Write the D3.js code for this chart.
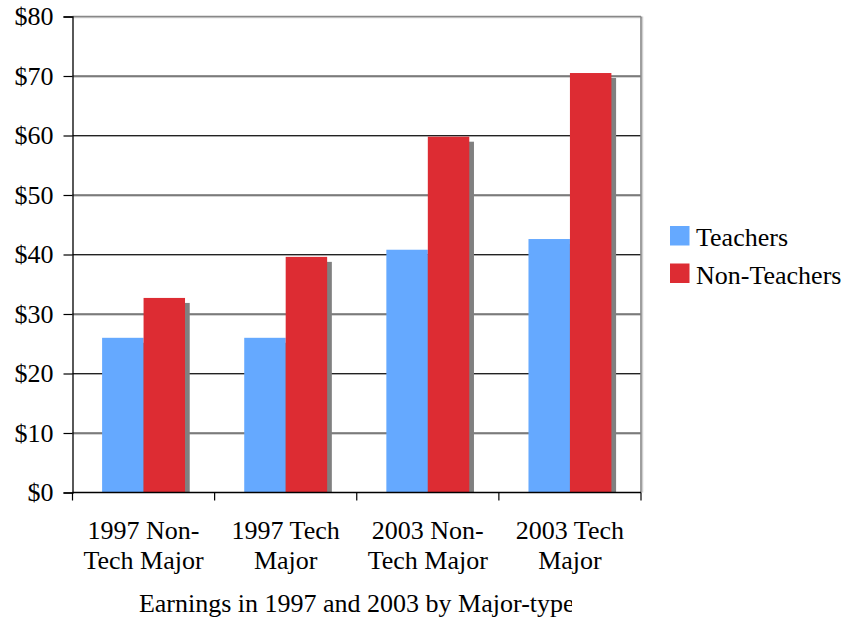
<!DOCTYPE html>
<html>
<head>
<meta charset="utf-8">
<script src="https://cdn.jsdelivr.net/npm/d3@7"></script>
<style>
  html, body { margin: 0; padding: 0; background: #fff; }
  svg { display: block; }
</style>
</head>
<body>
<svg id="chart" width="850" height="621"></svg>
<script>
const categories = [["1997 Non-", "Tech Major"], ["1997 Tech", "Major"], ["2003 Non-", "Tech Major"], ["2003 Tech", "Major"]];
const seriesNames = ["Teachers", "Non-Teachers"];
const teachers = [26.0, 26.0, 40.8, 42.6];
const nonTeachers = [32.7, 39.6, 59.8, 70.5];
const yTicks = [0, 10, 20, 30, 40, 50, 60, 70, 80];
const colors = ["#65A9FF", "#DD2C33"];
const title = "Earnings in 1997 and 2003 by Major-type";

(function () {
const FONT = "'Liberation Serif', 'Times New Roman', Times, 'DejaVu Serif', serif";
const svg = d3.select("#chart").attr("font-family", FONT).style("font-family", FONT);
const pL = 72.5, pR = 641, pT = 16.5, pB = 492.5;
const catKeys = categories.map((c, i) => i);

const x0 = d3.scaleBand().domain(catKeys).range([pL, pR]).paddingInner(0).paddingOuter(0);
const x1 = d3.scaleBand().domain(seriesNames).range([0, x0.bandwidth()]).paddingInner(0).paddingOuter(0.714);
const y = d3.scaleLinear().domain([0, 80]).range([pB, pT]);

svg.append("clipPath").attr("id", "plotClip").append("rect")
  .attr("x", pL).attr("y", pT).attr("width", pR - pL + 10).attr("height", pB - pT);

// gridlines
const grid = svg.append("g");
yTicks.filter(v => v > 0 && v < 80).forEach(v => {
  grid.append("line").attr("x1", pL).attr("x2", pR).attr("y1", y(v) + 1).attr("y2", y(v) + 1)
    .attr("stroke", "#a8a8a8").attr("stroke-width", 1);
  grid.append("line").attr("x1", pL).attr("x2", pR).attr("y1", y(v)).attr("y2", y(v))
    .attr("stroke", "#222").attr("stroke-width", 1.2);
});

// plot border top & right (gray)
svg.append("line").attr("x1", pL).attr("x2", pR + 1).attr("y1", pT + 1).attr("y2", pT + 1).attr("stroke", "#d0d0d0").attr("stroke-width", 1.5);
svg.append("line").attr("x1", pR + 1.5).attr("x2", pR + 1.5).attr("y1", pT).attr("y2", pB).attr("stroke", "#d0d0d0").attr("stroke-width", 1.5);
svg.append("line").attr("x1", pL).attr("x2", pR).attr("y1", pT).attr("y2", pT).attr("stroke", "#888").attr("stroke-width", 1.6);
svg.append("line").attr("x1", pR).attr("x2", pR).attr("y1", pT).attr("y2", pB).attr("stroke", "#888").attr("stroke-width", 1.6);

const data = catKeys.map(i => ({ cat: i, values: [teachers[i], nonTeachers[i]] }));

const bars = svg.append("g").attr("clip-path", "url(#plotClip)");
data.forEach(d => {
  d.values.forEach((v, j) => {
    const bx = x0(d.cat) + x1(seriesNames[j]);
    bars.append("rect")
      .attr("x", bx + 4.7).attr("y", y(v) + 5)
      .attr("width", x1.bandwidth()).attr("height", pB - y(v))
      .attr("fill", "#808080");
  });
  d.values.forEach((v, j) => {
    const bx = x0(d.cat) + x1(seriesNames[j]);
    bars.append("rect")
      .attr("x", bx).attr("y", y(v))
      .attr("width", x1.bandwidth()).attr("height", pB - y(v))
      .attr("fill", colors[j]);
  });
});

// Y axis
const yAxis = d3.axisLeft(y).tickValues(yTicks).tickFormat(d => "$" + d).tickSize(9).tickPadding(10);
const yg = svg.append("g").attr("transform", `translate(${pL},0)`).call(yAxis);
yg.attr("font-family", FONT).attr("font-size", 26);
yg.select(".domain").attr("stroke", "#000").attr("stroke-width", 1.3);
yg.selectAll(".tick line").attr("stroke", "#000").attr("stroke-width", 1.2);
yg.selectAll(".tick text").attr("font-family", FONT).style("font-family", FONT).style("font-size", "26px").attr("fill", "#000");

// X axis
const boundaries = catKeys.map(i => x0(i)).concat([pR]);
const xg = svg.append("g");
xg.append("line").attr("x1", pL).attr("x2", pR).attr("y1", pB).attr("y2", pB).attr("stroke", "#000").attr("stroke-width", 1.3);
boundaries.forEach(bx => {
  xg.append("line").attr("x1", bx).attr("x2", bx).attr("y1", pB).attr("y2", pB + 8).attr("stroke", "#000").attr("stroke-width", 1.2);
});
categories.forEach((c, i) => {
  const cx = x0(i) + x0.bandwidth() / 2;
  const t = xg.append("text").attr("text-anchor", "middle").attr("font-family", FONT).style("font-family", FONT).style("font-size", "26px").attr("fill", "#000");
  t.append("tspan").attr("x", cx).attr("y", 539).text(c[0]);
  t.append("tspan").attr("x", cx).attr("y", 569).text(c[1]);
});

// Title
svg.append("clipPath").attr("id", "titleClip").append("rect").attr("x", 0).attr("y", 580).attr("width", 572).attr("height", 41);
svg.append("text").attr("clip-path", "url(#titleClip)")
  .attr("x", (pL + pR) / 2).attr("y", 612).attr("text-anchor", "middle")
  .attr("font-family", FONT).style("font-family", FONT).style("font-size", "26px").attr("fill", "#000").text(title);

// Legend
const legend = svg.append("g");
seriesNames.forEach((s, j) => {
  const ly = 226 + j * 37.5;
  legend.append("rect").attr("x", 670).attr("y", ly).attr("width", 19.5).attr("height", 19.5).attr("fill", colors[j]);
  legend.append("text").attr("x", 696).attr("y", ly + 20).attr("font-family", FONT).style("font-family", FONT).style("font-size", "26px").attr("fill", "#000").text(s);
});
})();
</script>
</body>
</html>
